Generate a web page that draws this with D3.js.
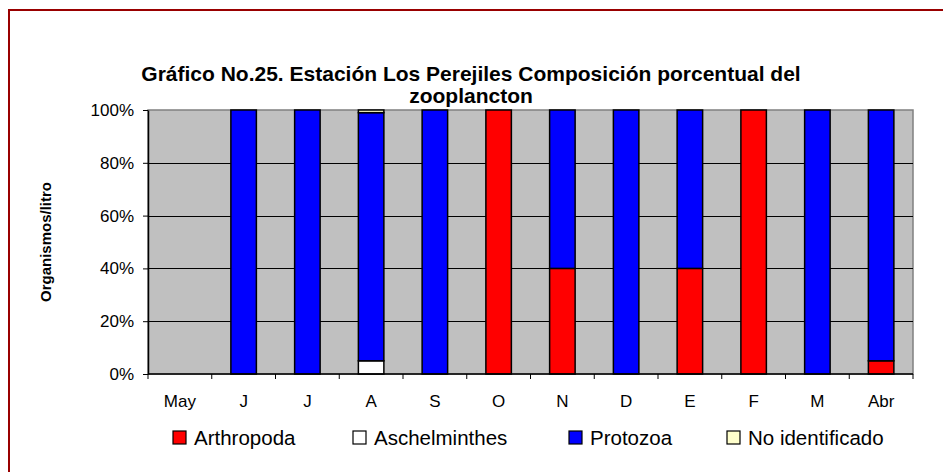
<!DOCTYPE html>
<html>
<head>
<meta charset="utf-8">
<script src="https://cdn.jsdelivr.net/npm/d3@7"></script>
<style>
  body { margin: 0; background: #fff; }
  svg { display: block; font-family: "Liberation Sans", Arial, sans-serif; }
</style>
</head>
<body>
<div></div>
<script>
const months = ["May", "J", "J", "A", "S", "O", "N", "D", "E", "F", "M", "Abr"];
const seriesNames = ["Arthropoda", "Aschelminthes", "Protozoa", "No identificado"];
const seriesColors = ["#FF0000", "#FFFFFF", "#0000FF", "#FFFFCC"];
const arthropoda = [0, 0, 0, 0, 0, 100, 40, 0, 40, 100, 0, 5];
const aschelminthes = [0, 0, 0, 5, 0, 0, 0, 0, 0, 0, 0, 0];
const protozoa = [0, 100, 100, 94, 100, 0, 60, 100, 60, 0, 100, 95];
const noIdentificado = [0, 0, 0, 1, 0, 0, 0, 0, 0, 0, 0, 0];
const yTicks = [0, 20, 40, 60, 80, 100];

const width = 943, height = 472;
const margin = { top: 110, right: 30, bottom: 98, left: 148 };
const innerWidth = width - margin.left - margin.right;
const innerHeight = height - margin.top - margin.bottom;

const rows = months.map((m, i) => ({
  key: i,
  "Arthropoda": arthropoda[i],
  "Aschelminthes": aschelminthes[i],
  "Protozoa": protozoa[i],
  "No identificado": noIdentificado[i]
}));
const stacked = d3.stack().keys(seriesNames)(rows);

const xScale = d3.scaleBand().domain(d3.range(months.length)).range([0, innerWidth]).paddingInner(0.6).paddingOuter(0.3);
const yScale = d3.scaleLinear().domain([0, 100]).range([innerHeight, 0]);
const color = d3.scaleOrdinal().domain(seriesNames).range(seriesColors);

const svg = d3.select('div').append('svg').attr("width", width).attr("height", height);

// outer frame (only top & left visible in the crop)
svg.append('rect').attr("x", 9).attr("y", 10).attr("width", 1000).attr("height", 1000)
  .attr("fill", "none").attr("stroke", "#990000").attr("stroke-width", 2);

// title
const title = svg.append('text').attr("text-anchor", "middle").attr("font-weight", "bold").attr("font-size", 21);
title.append('tspan').attr("x", 471).attr("y", 81).text("Gráfico No.25. Estación Los Perejiles Composición porcentual del");
title.append('tspan').attr("x", 471).attr("y", 103).text("zooplancton");

const chart = svg.append('g').attr("transform", `translate(${margin.left},${margin.top})`);

chart.append('rect').attr("width", innerWidth).attr("height", innerHeight)
  .attr("fill", "#C0C0C0").attr("stroke", "#808080").attr("stroke-width", 1.5);

// gridlines
chart.append('g').selectAll('line').data(yTicks.filter(d => d > 0 && d < 100)).join('line')
  .attr("x1", 0).attr("x2", innerWidth)
  .attr("y1", d => Math.round(yScale(d)) + 0.5).attr("y2", d => Math.round(yScale(d)) + 0.5)
  .attr("stroke", "#000").attr("stroke-width", 1);

// bars
chart.append('g').selectAll('g').data(stacked).join('g')
  .attr("fill", d => color(d.key))
  .selectAll('rect').data(d => d.filter(s => s[1] - s[0] > 0)).join('rect')
  .attr("x", d => xScale(d.data.key))
  .attr("width", xScale.bandwidth())
  .attr("y", d => yScale(d[1]))
  .attr("height", d => yScale(d[0]) - yScale(d[1]))
  .attr("stroke", "#000").attr("stroke-width", 1.5);

// axes
const yAxis = d3.axisLeft(yScale).tickValues(yTicks).tickFormat(d => d + "%").tickSize(5).tickSizeOuter(0).tickPadding(9);
const gy = chart.append('g').call(yAxis);
gy.select('.domain').attr("stroke", "#000").attr("stroke-width", 1.5);
gy.selectAll('text').attr("font-size", 17).attr("fill", "#000").attr("font-family", "Liberation Sans, Arial, sans-serif");

const step = innerWidth / months.length;
const gx = chart.append('g').attr("transform", `translate(0,${innerHeight})`);
gx.append('line').attr("x1", 0).attr("x2", innerWidth).attr("stroke", "#000").attr("stroke-width", 1.5);
gx.selectAll('line.tick').data(d3.range(months.length + 1)).join('line').attr("class", "tick")
  .attr("x1", d => d * step).attr("x2", d => d * step).attr("y1", 0).attr("y2", 5)
  .attr("stroke", "#000");
gx.selectAll('text').data(months).join('text')
  .attr("x", (d, i) => xScale(i) + xScale.bandwidth() / 2).attr("y", 33)
  .attr("text-anchor", "middle").attr("font-size", 17).text(d => d);

// y title
svg.append('text').attr("transform", `translate(51,${margin.top + innerHeight / 2}) rotate(-90)`)
  .attr("text-anchor", "middle").attr("font-weight", "bold").attr("font-size", 15).text("Organismos/litro");

// legend
const legendX = [173, 353, 569, 727];
const legend = svg.append('g').selectAll('g').data(seriesNames).join('g')
  .attr("transform", (d, i) => `translate(${legendX[i]},431)`);
legend.append('rect').attr("width", 13).attr("height", 13).attr("fill", d => color(d))
  .attr("stroke", "#000").attr("stroke-width", 1.2);
legend.append('text').attr("x", 21).attr("y", 14).attr("font-size", 20.5).text(d => d);
</script>
</body>
</html>
